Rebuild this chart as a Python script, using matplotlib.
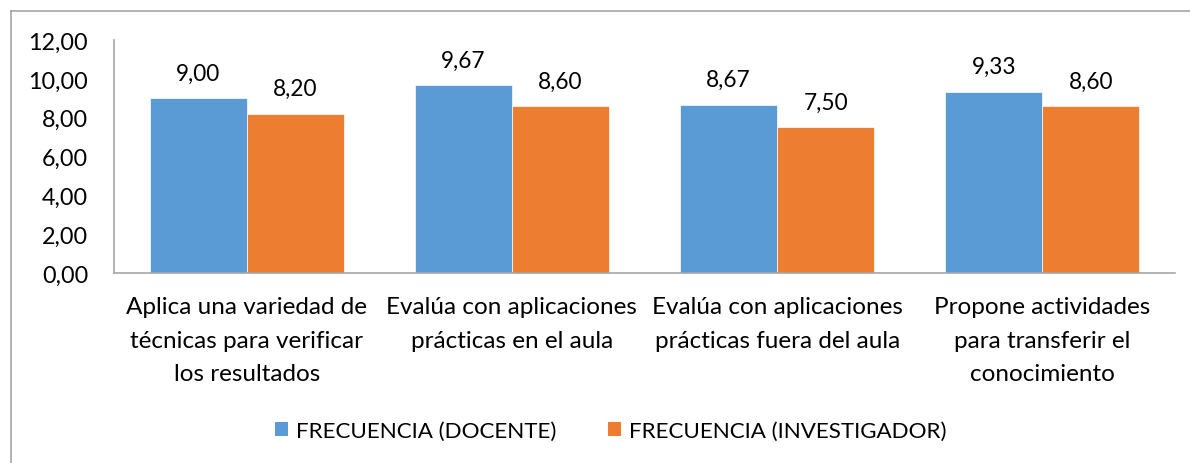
import matplotlib.pyplot as plt
import numpy as np
from matplotlib.lines import Line2D
from matplotlib.patches import Patch

categories = ['Aplica una variedad de\ntécnicas para verificar\nlos resultados',
              'Evalúa con aplicaciones\nprácticas en el aula',
              'Evalúa con aplicaciones\nprácticas fuera del aula',
              'Propone actividades\npara transferir el\nconocimiento']
docente = [9.00, 9.67, 8.67, 9.33]
investigador = [8.20, 8.60, 7.50, 8.60]
series_names = ['FRECUENCIA (DOCENTE)', 'FRECUENCIA (INVESTIGADOR)']
y_ticks = [0, 2, 4, 6, 8, 10, 12]

plt.rcParams['font.family'] = ['Lato', 'DejaVu Sans']

blue = '#5B9BD5'
orange = '#ED7D31'

fig = plt.figure(figsize=(11.9, 4.64), dpi=100)
ax = fig.add_axes([0.0958, 0.4095, 0.8916, 0.5021])

x = np.arange(len(categories))
w = 0.366
b1 = ax.bar(x - w/2, docente, w, color=blue, edgecolor='white', linewidth=0.5)
b2 = ax.bar(x + w/2, investigador, w, color=orange, edgecolor='white', linewidth=0.5)

#value labels above bars
for bars, vals in ((b1, docente), (b2, investigador)):
    for r, v in zip(bars, vals):
        ax.annotate(f'{v:.2f}'.replace('.', ','), (r.get_x() + r.get_width()/2, v),
                    xytext=(0, 10.5), textcoords='offset points',
                    ha='center', va='bottom', fontsize=16.3, color='black')

ax.set_xlim(-0.5, 3.5)
ax.set_ylim(0, 12)
ax.set_yticks(y_ticks)
ax.set_yticklabels([f'{t:.2f}'.replace('.', ',') for t in y_ticks], fontsize=16.8)
ax.set_xticks(x)
ax.set_xticklabels(categories, fontsize=17.5, linespacing=1.75)
ax.tick_params(axis='both', length=0)
ax.tick_params(axis='y', pad=18.7)
ax.tick_params(axis='x', pad=16.5)

for s in ('top', 'right'):
    ax.spines[s].set_visible(False)
for s in ('left', 'bottom'):
    ax.spines[s].set_color('#A6A6A6')
    ax.spines[s].set_linewidth(1.2)

#legend
handles = [Patch(facecolor=blue), Patch(facecolor=orange)]
fig.legend(handles, series_names, loc='center', bbox_to_anchor=(0.513, 0.069),
           ncol=2, frameon=False, fontsize=16.1, handlelength=0.58, handleheight=0.58,
           handletextpad=0.36, columnspacing=2.3)

#chart border (top and left only)
fig.add_artist(Line2D([11/1190, 1], [1 - 12/464, 1 - 12/464], color='#A6A6A6', lw=1.2,
                      transform=fig.transFigure))
fig.add_artist(Line2D([11/1190, 11/1190], [0, 1 - 12/464], color='#A6A6A6', lw=1.2,
                      transform=fig.transFigure))

fig.savefig('out.png', dpi=100)
